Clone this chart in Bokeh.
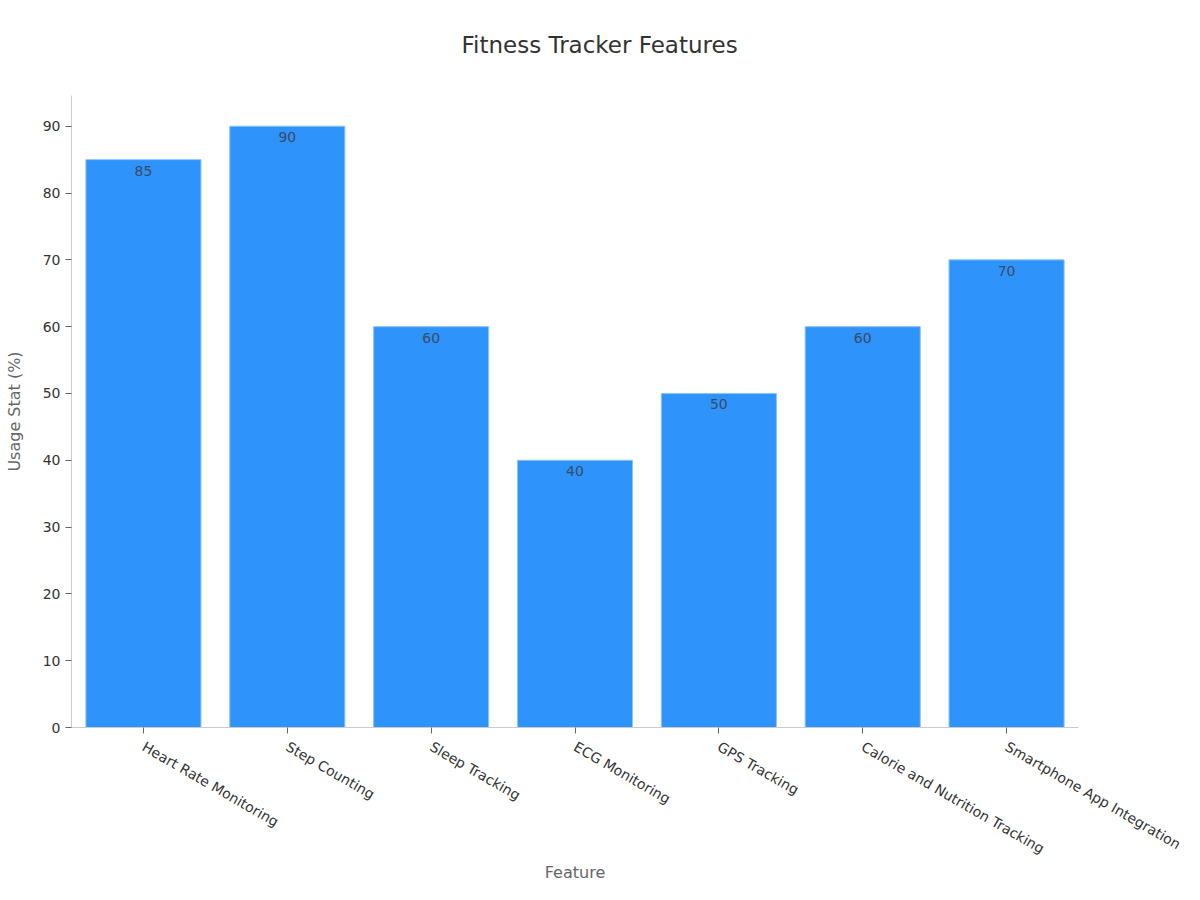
import math
from bokeh.plotting import figure
from bokeh.models import ColumnDataSource, FactorRange, Range1d, FixedTicker, Title
from bokeh.embed import file_html
from bokeh.resources import INLINE

# chart data
features = ["Heart Rate Monitoring", "Step Counting", "Sleep Tracking", "ECG Monitoring",
            "GPS Tracking", "Calorie and Nutrition Tracking", "Smartphone App Integration"]
usage = [85, 90, 60, 40, 50, 60, 70]
y_ticks = [0, 10, 20, 30, 40, 50, 60, 70, 80, 90]
title_text = "Fitness Tracker Features"

FONT = "DejaVu Sans"

src = ColumnDataSource(data=dict(feature=features, usage=usage,
                                 label=[str(v) for v in usage]))

p = figure(x_range=FactorRange(*features, range_padding=0), y_range=Range1d(0, 94.6),
           width=1184, height=884, output_backend="svg", toolbar_location=None, tools="",
           min_border_left=71, min_border_right=106, min_border_top=95, min_border_bottom=157)

p.vbar(x="feature", top="usage", width=0.8, source=src,
       fill_color="#2e93fa", line_color="#8cc4fb", line_width=1)

p.text(x="feature", y="usage", text="label", source=src, y_offset=6,
       text_align="center", text_baseline="top", text_font_size="14px",
       text_color="#3b4a63", text_font={"value": FONT})

# title plus a blank spacer title between it and the plot (first added sits nearest the frame)
spacer = Title(text=" ", text_font_size="1px", standoff=10)
main_title = Title(text=title_text, align="left", offset=390, text_font=FONT,
                   text_font_size="23px", text_font_style="normal",
                   text_color="#333333", standoff=50)
p.add_layout(spacer, "above")
p.add_layout(main_title, "above")

# axes
p.xaxis.axis_label = "Feature"
p.yaxis.axis_label = "Usage Stat (%)"
p.yaxis.ticker = FixedTicker(ticks=y_ticks)
p.xaxis.major_label_orientation = -math.pi / 6
for ax in (p.xaxis, p.yaxis):
    ax.axis_label_text_font = FONT
    ax.axis_label_text_font_size = "16px"
    ax.axis_label_text_font_style = "normal"
    ax.axis_label_text_color = "#666666"
    ax.major_label_text_font = FONT
    ax.major_label_text_font_size = "14px"
    ax.major_label_text_color = "#333333"
    ax.axis_line_color = "#cccccc"
    ax.major_tick_line_color = "#666666"
    ax.major_tick_in = 0
    ax.major_tick_out = 6
    ax.minor_tick_line_color = None
p.yaxis.axis_label_standoff = 16
p.xaxis.major_label_standoff = 12
p.xaxis.axis_label_standoff = -4

p.xgrid.grid_line_color = None
p.ygrid.grid_line_color = None
p.outline_line_color = None

open("out.html", "w").write(file_html(p, INLINE))
